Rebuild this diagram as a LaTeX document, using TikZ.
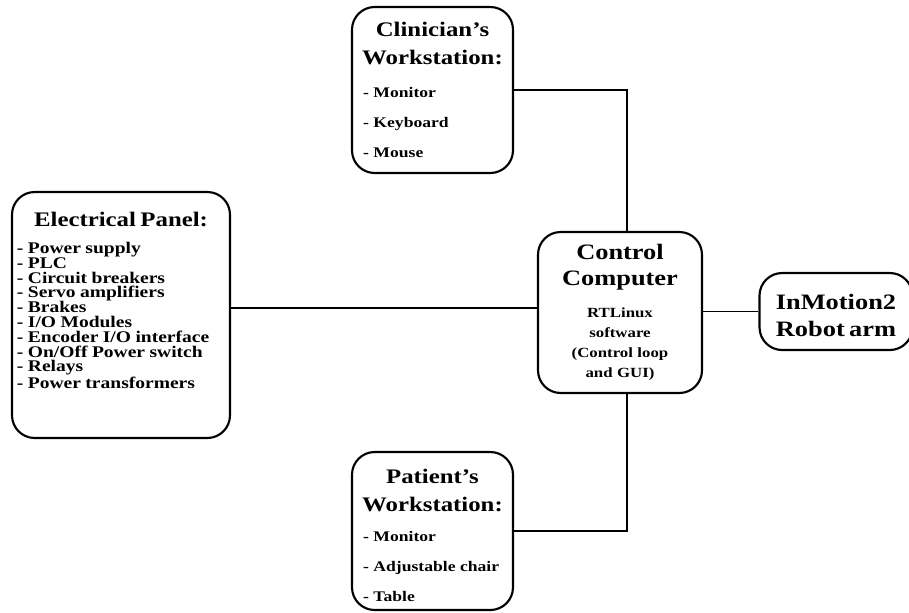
\documentclass[tikz,border=0pt]{standalone}
\usepackage{fontspec}
\setmainfont{Liberation Serif}[FakeStretch=1.2]
\usepackage{tikz}
\newcommand{\hdsz}{\fontsize{15.5}{21}\selectfont}
\newcommand{\bgsz}{\fontsize{16.5}{20}\selectfont}
\newcommand{\itsz}{\fontsize{11}{22.5}\selectfont}
\newcommand{\smsz}{\fontsize{12.2}{11.1}\selectfont}

\begin{document}
\begin{tikzpicture}[x=0.75pt,y=-0.75pt,
  blk/.style={draw,line width=1.6pt,rounded corners=17pt,inner sep=0pt,font=\bfseries},
  lst/.style={blk,align=left,text width=#1},
  mid/.style={blk,align=center,text width=#1},
  wire/.style={line width=1.4pt}]
\useasboundingbox (0,0) rectangle (909,612);
\node[lst=156pt,minimum width=163.5pt,minimum height=184.5pt] (panel) at (121,315)
  {\makebox[\linewidth]{\hdsz Electrical Panel:}\\[9pt]
   \smsz - Power supply\\ - PLC\\ - Circuit breakers\\ - Servo amplifiers\\ - Brakes\\
   - I/O Modules\\ - Encoder I/O interface\\ - On/Off Power switch\\ - Relays\\ - Power transformers\par
   \nointerlineskip\hrule height 0pt depth 22pt width 0pt};
\node[lst=104pt,minimum width=120.75pt,minimum height=124.5pt] (clin) at (432.5,90)
  {\hdsz\makebox[\linewidth]{Clinician's}\\ \makebox[\linewidth]{Workstation:}\\[2pt]
   \itsz - Monitor\\ - Keyboard\\ - Mouse\par};
\node[lst=104pt,minimum width=120.75pt,minimum height=118.5pt] (pat) at (432.5,531)
  {\hdsz\makebox[\linewidth]{\rule{0pt}{17pt}Patient's}\\ \makebox[\linewidth]{Workstation:}\\
   \itsz - Monitor\\ - Adjustable chair\\ - Table\par};
\node[mid=115pt,minimum width=123pt,minimum height=120.75pt] (ctrl) at (620,312.5)
  {\bgsz Control\\ Computer\\[9pt] \fontsize{10.5}{15}\selectfont RTLinux\\ software\\ (Control loop\\ and GUI)\par};
\node[mid=108pt,minimum width=114.75pt,minimum height=57.75pt] (robot) at (836,311.5)
  {\bgsz\rule{0pt}{17.5pt}InMotion2\\ Robot arm\par};
\draw[wire] ([yshift=5pt]panel.east) -- ([yshift=5pt]panel.east -| ctrl.west);
\draw[wire] (clin.east) -| ([xshift=5pt]ctrl.north);
\draw[wire] (pat.east) -| ([xshift=5pt]ctrl.south);
\draw[wire] (ctrl.east |- robot.west) -- (robot.west);
\end{tikzpicture}
\end{document}
